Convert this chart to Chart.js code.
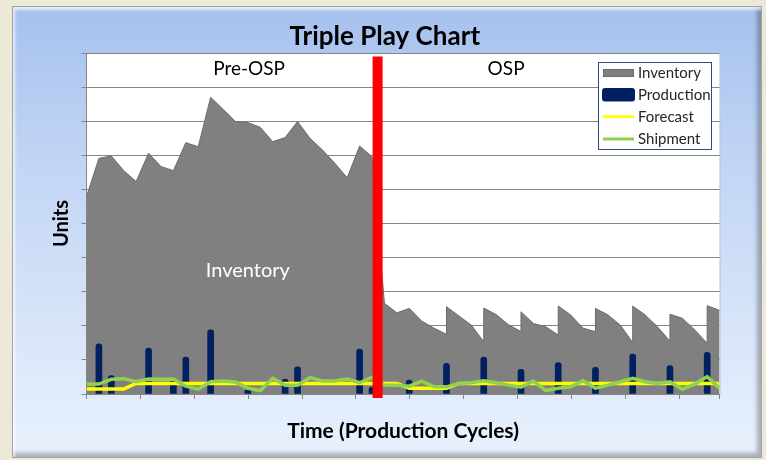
<!DOCTYPE html>
<html>
<head>
<meta charset="utf-8">
<title>Triple Play Chart</title>
<script src="https://cdn.jsdelivr.net/npm/chart.js"></script>
<style>
  html, body { margin: 0; padding: 0; background: #ece9d8; }
  #wrap { position: relative; width: 766px; height: 460px; overflow: hidden; }
  #frame {
    position: absolute; left: 12px; top: 6px; width: 750px; height: 452px;
    box-sizing: border-box; border: 1px solid #a3a3a3;
    background: linear-gradient(to bottom, #a6c1ee 0%, #c2d5f4 35%, #e9f1fd 100%);
    box-shadow: inset 2px 3px 3px rgba(255,255,255,0.7), inset -4px -4px 4px rgba(0,0,0,0.28);
  }
  #chart { position: absolute; left: 0; top: 0; }
</style>
</head>
<body>
<div id="wrap">
  <div id="frame"></div>
  <canvas id="chart" width="766" height="460"></canvas>
</div>
<script>
// production cycles 0..51
const cycles = [0, 1, 2, 3, 4, 5, 6, 7, 8, 9, 10, 11, 12, 13, 14, 15, 16, 17, 18, 19,
  20, 21, 22, 23, 24, 25, 26, 27, 28, 29, 30, 31, 32, 33, 34, 35, 36, 37, 38, 39,
  40, 41, 42, 43, 44, 45, 46, 47, 48, 49, 50, 51];

const inventory = [57.9, 69.1, 69.8, 65.5, 62.3, 70.6, 66.7, 65.5, 73.7, 72.5,
  87.0, 83.5, 79.9, 79.6, 78.2, 74.0, 75.2, 79.9, 75.0, 71.6,
  67.7, 63.4, 72.7, 69.6, 26.6, 23.8, 25.1, 21.4, 19.3, 17.5,
  22.9, 20.2, 15.3, 23.3, 20.3, 18.3, 20.7, 19.7, 17.3, 23.2,
  19.3, 18.3, 23.2, 20.2, 15.1, 23.2, 19.7, 15.5, 22.2, 18.8,
  14.9, 24.5];

// in OSP the stock jumps straight up when a batch arrives
const restockCycles = [29, 32, 35, 38, 41, 44, 47, 50];
const restockLevels = [25.6, 25.2, 24.1, 25.8, 25.1, 25.8, 23.4, 25.9];

const production = [0, 14.7, 5.4, 0, 0, 13.5, 0, 4.5, 10.8, 0,
  18.8, 0, 0, 1.2, 0, 0, 4.4, 8.0, 0, 0,
  0, 0, 13.2, 2.0, 0, 0, 4.1, 0, 0, 9.0,
  0, 0, 10.8, 0, 0, 7.2, 0, 0, 9.2, 0,
  0, 7.8, 0, 0, 11.7, 0, 0, 8.3, 0, 0,
  12.2, 0];

const forecast = [1.5, 1.5, 1.5, 1.5, 3.1, 3.1, 3.1, 3.1, 3.1, 3.1,
  3.1, 3.1, 3.1, 3.1, 3.1, 3.1, 3.1, 3.1, 3.1, 3.1,
  3.1, 3.1, 3.1, 3.1, 3.1, 3.1, 1.7, 1.7, 1.7, 1.7,
  3.1, 3.1, 3.1, 3.1, 3.1, 3.1, 3.1, 3.1, 3.1, 3.1,
  3.1, 3.1, 3.1, 3.1, 3.1, 3.1, 3.1, 3.1, 3.1, 3.1,
  3.1, 3.1];

const shipment = [2.9, 2.9, 4.3, 4.5, 3.6, 4.4, 4.3, 4.4, 2.3, 1.4,
  3.6, 3.8, 3.5, 1.7, 1.0, 4.6, 2.6, 2.6, 4.8, 3.8,
  3.8, 4.4, 3.3, 4.9, 2.6, 2.6, 2.3, 3.8, 2.1, 2.1,
  3.1, 3.3, 3.9, 3.3, 2.6, 2.0, 3.8, 1.0, 1.7, 2.1,
  3.9, 1.7, 2.6, 3.6, 4.6, 3.6, 3.1, 3.6, 1.4, 2.9,
  5.1, 1.7];

const ospStart = 23.45;

// build point lists
const inventoryPoints = [];
cycles.forEach((c, i) => {
  inventoryPoints.push({x: c, y: inventory[i]});
  const k = restockCycles.indexOf(c);
  if (k >= 0) inventoryPoints.push({x: c, y: restockLevels[k]});
});
const productionPoints = cycles.map((c, i) => ({x: c, y: production[i]})).filter(p => p.y > 0);
const forecastPoints = cycles.map((c, i) => ({x: c, y: forecast[i]}));
const shipmentPoints = cycles.map((c, i) => ({x: c, y: shipment[i]}));

Chart.defaults.font.family = 'Lato, sans-serif';

const plotBackground = {
  id: 'plotBackground',
  beforeDraw(chart) {
    const {ctx, chartArea: a} = chart;
    ctx.save();
    ctx.fillStyle = '#ffffff';
    ctx.fillRect(a.left, a.top, a.right - a.left, a.bottom - a.top);
    ctx.strokeStyle = '#b4c8e8';
    ctx.beginPath();
    ctx.moveTo(a.right + 0.5, a.top);
    ctx.lineTo(a.right + 0.5, a.bottom);
    ctx.stroke();
    ctx.restore();
  }
};

const notes = {
  id: 'notes',
  afterDraw(chart) {
    const {ctx} = chart;
    const x = chart.scales.x, y = chart.scales.y;
    ctx.save();
    ctx.textAlign = 'center';
    ctx.textBaseline = 'middle';
    ctx.font = '19px Lato, sans-serif';
    ctx.fillStyle = '#000';
    ctx.fillText('Pre-OSP', x.getPixelForValue(13.1), y.getPixelForValue(95.3));
    ctx.fillText('OSP', x.getPixelForValue(33.8), y.getPixelForValue(95.3));
    ctx.fillStyle = '#fff';
    ctx.font = '20px Lato, sans-serif';
    ctx.fillText('Inventory', x.getPixelForValue(13.0), y.getPixelForValue(36.1));

    // legend box
    const lx = 598.5, ly = 62.5, lw = 113, lh = 87;
    ctx.fillStyle = '#fff';
    ctx.fillRect(lx, ly, lw, lh);
    ctx.strokeStyle = '#2c4a87';
    ctx.lineWidth = 1;
    ctx.strokeRect(lx, ly, lw, lh);

    const rows = [72.7, 95, 116.7, 139];
    // Inventory swatch
    ctx.fillStyle = '#808080';
    ctx.fillRect(603, 69, 31, 8);
    ctx.strokeStyle = '#6a6a6a';
    ctx.strokeRect(603.5, 69.5, 30, 7);
    // Production swatch
    ctx.fillStyle = '#002060';
    ctx.beginPath();
    ctx.roundRect(602, 88, 33, 13.5, 3);
    ctx.fill();
    // Forecast / Shipment
    ctx.lineWidth = 3;
    ctx.strokeStyle = '#ffff00';
    ctx.beginPath(); ctx.moveTo(603, rows[2]); ctx.lineTo(634, rows[2]); ctx.stroke();
    ctx.strokeStyle = '#92d050';
    ctx.beginPath(); ctx.moveTo(603, rows[3]); ctx.lineTo(634, rows[3]); ctx.stroke();

    ctx.font = '15px Lato, sans-serif';
    ctx.fillStyle = '#262626';
    ctx.textAlign = 'left';
    ['Inventory', 'Production', 'Forecast', 'Shipment'].forEach((t, i) => {
      ctx.fillText(t, 638, rows[i]);
    });
    ctx.restore();
  }
};

new Chart(document.getElementById('chart'), {
  type: 'line',
  data: {
    datasets: [
      {
        label: 'OSP start',
        data: [{x: ospStart, y: 99}, {x: ospStart, y: -1.2}],
        borderColor: '#ff0000',
        borderWidth: 10,
        borderCapStyle: 'butt',
        pointRadius: 0,
        clip: false,
        order: 0
      },
      {
        label: 'Shipment',
        data: shipmentPoints,
        borderColor: '#92d050',
        borderWidth: 3.5,
        pointRadius: 0,
        order: 1
      },
      {
        label: 'Forecast',
        data: forecastPoints,
        borderColor: '#ffff00',
        borderWidth: 3.5,
        pointRadius: 0,
        order: 2
      },
      {
        type: 'bar',
        label: 'Production',
        data: productionPoints,
        backgroundColor: '#002060',
        barThickness: 6,
        borderRadius: 3,
        order: 3
      },
      {
        label: 'Inventory',
        data: inventoryPoints,
        borderColor: '#6b6b6b',
        borderWidth: 1,
        backgroundColor: '#808080',
        fill: 'origin',
        pointRadius: 0,
        order: 4
      }
    ]
  },
  options: {
    responsive: false,
    animation: false,
    layout: { padding: { left: 50, right: 46.4, top: 10, bottom: 15.9 } },
    plugins: {
      legend: { display: false },
      tooltip: { enabled: false },
      title: {
        display: true,
        text: 'Triple Play Chart',
        color: '#000',
        font: { size: 26, weight: 'bold' },
        padding: { top: 11.4, bottom: 0.4 }
      }
    },
    scales: {
      x: { type: 'linear', display: false, min: 0, max: 51, offset: false, grid: { offset: false } },
      xt: {
        type: 'linear', axis: 'x', position: 'bottom', min: 0, max: 47, offset: false,
        ticks: { display: false, stepSize: 4 },
        grid: { drawOnChartArea: false, color: '#868686', tickLength: 5 },
        border: { color: '#868686' },
        title: {
          display: true, text: 'Time (Production Cycles)', color: '#000',
          font: { size: 21, weight: 'bold' }, padding: { top: 19.9, bottom: 0 }
        }
      },
      y: {
        min: 0, max: 100,
        ticks: { display: false, stepSize: 10 },
        grid: { color: '#868686', tickLength: 5 },
        border: { color: '#868686' },
        title: {
          display: true, text: 'Units', color: '#000',
          font: { size: 20, weight: 'bold' }, padding: { top: 0, bottom: 7.5 }
        }
      }
    }
  },
  plugins: [plotBackground, notes]
});
</script>
</body>
</html>
